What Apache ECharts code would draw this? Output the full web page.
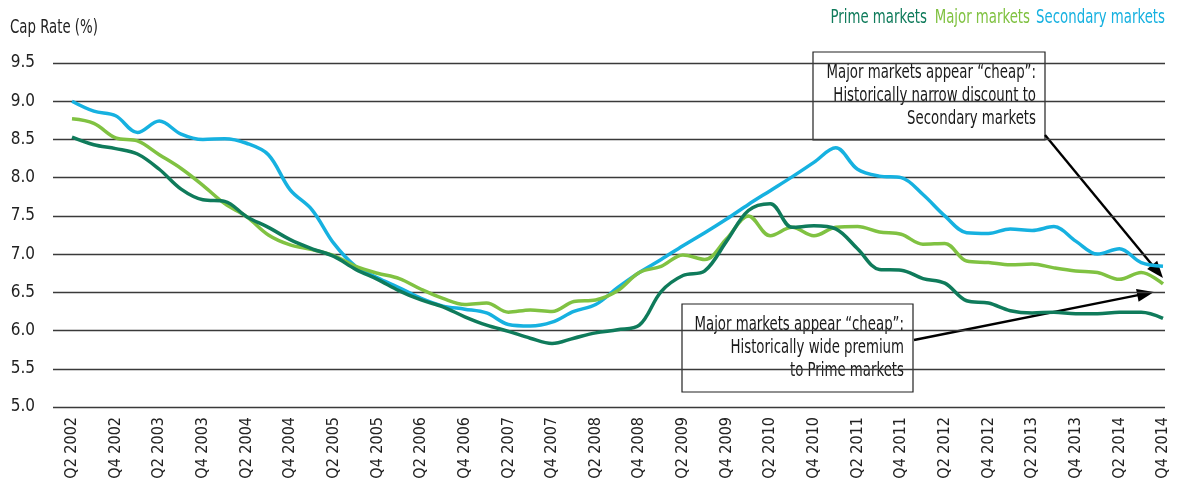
<!DOCTYPE html>
<html>
<head>
<meta charset="utf-8">
<title>Cap Rate</title>
<script src="https://cdn.jsdelivr.net/npm/echarts@6/dist/echarts.min.js"></script>
<style>
    html, body { margin:0; padding:0; background:#fff; }
    #chart { width:1183px; height:486px; }
</style>
</head>
<body>
<div id="chart"></div>
<script>
var quarters = [
    'Q2 2002','Q3 2002','Q4 2002','Q1 2003','Q2 2003','Q3 2003','Q4 2003','Q1 2004','Q2 2004','Q3 2004','Q4 2004',
    'Q1 2005','Q2 2005','Q3 2005','Q4 2005','Q1 2006','Q2 2006','Q3 2006','Q4 2006','Q1 2007','Q2 2007','Q3 2007','Q4 2007',
    'Q1 2008','Q2 2008','Q3 2008','Q4 2008','Q1 2009','Q2 2009','Q3 2009','Q4 2009','Q1 2010','Q2 2010','Q3 2010','Q4 2010',
    'Q1 2011','Q2 2011','Q3 2011','Q4 2011','Q1 2012','Q2 2012','Q3 2012','Q4 2012','Q1 2013','Q2 2013','Q3 2013','Q4 2013',
    'Q1 2014','Q2 2014','Q3 2014','Q4 2014'
];

var primeMarkets = [
    8.53,8.43,8.38,8.31,8.11,7.85,7.71,7.69,7.49,7.35,7.19,
    7.07,6.97,6.80,6.67,6.52,6.40,6.31,6.18,6.07,5.99,5.90,5.83,
    5.90,5.97,6.01,6.07,6.51,6.72,6.78,7.17,7.57,7.66,7.35,7.37,
    7.33,7.07,6.80,6.79,6.68,6.62,6.39,6.36,6.26,6.23,6.24,6.22,
    6.22,6.24,6.24,6.16
];

var majorMarkets = [
    8.77,8.71,8.52,8.48,8.30,8.12,7.90,7.66,7.49,7.25,7.12,
    7.06,6.98,6.84,6.75,6.68,6.54,6.42,6.34,6.36,6.24,6.27,6.25,
    6.38,6.40,6.52,6.76,6.84,6.99,6.93,7.20,7.50,7.24,7.35,7.24,
    7.35,7.36,7.29,7.26,7.13,7.14,6.91,6.89,6.86,6.87,6.82,6.78,
    6.76,6.67,6.76,6.61
];

var secondaryMarkets = [
    9.00,8.87,8.81,8.59,8.74,8.57,8.50,8.51,8.45,8.30,7.84,
    7.58,7.14,6.84,6.69,6.56,6.42,6.32,6.28,6.23,6.08,6.06,6.11,
    6.25,6.34,6.56,6.76,6.93,7.11,7.28,7.46,7.65,7.83,8.01,8.20,
    8.39,8.11,8.02,8.00,7.78,7.50,7.28,7.27,7.33,7.31,7.36,7.17,
    7.00,7.07,6.89,6.84
];

var yTicks = ['5.0','5.5','6.0','6.5','7.0','7.5','8.0','8.5','9.0','9.5'];

var seriesNames = ['Prime markets','Major markets','Secondary markets'];
var seriesColors = ['#0f7b5b','#80c242','#16b1e0'];

var noteTop = ['Major markets appear “cheap”:','Historically narrow discount to','Secondary markets'];
var noteBottom = ['Major markets appear “cheap”:','Historically wide premium','to Prime markets'];

var font = "'DejaVu Sans Condensed','Liberation Sans',sans-serif";
var squeeze = 0.74;   // no condensed face here, so narrow the free texts by hand
var lineW = 3.5;

// free text, squeezed horizontally around its anchor
var makeText = function(str, x, y, color, align){
    return {
        type:'text',
        x:x,
        y:y,
        scaleX:squeeze,
        z:100,
        style:{
            text:str,
            fill:color,
            font:'20px ' + font,
            align:align || 'left',
            verticalAlign:'middle'
        }
    };
};

var makeNote = function(lines, x, y, width, height){
    return {
        type:'group',
        x:x,
        y:y,
        z:100,
        children:[
            {
                type:'rect',
                shape:{x:0, y:0, width:width, height:height},
                style:{fill:'#fff', stroke:'#222', lineWidth:1.2}
            },
            {
                type:'text',
                x:width - 9,
                y:9,
                scaleX:squeeze,
                style:{
                    text:lines.join('\n'),
                    fill:'#1a1a1a',
                    font:'20px ' + font,
                    align:'right',
                    verticalAlign:'top',
                    lineHeight:23
                }
            }
        ]
    };
};

var makeArrow = function(x1, y1, x2, y2){
    var len = 17, half = 6.5;
    var dx = x2 - x1, dy = y2 - y1;
    var d = Math.sqrt(dx * dx + dy * dy);
    var ux = dx / d, uy = dy / d;
    var bx = x2 - ux * len, by = y2 - uy * len;
    return {
        type:'group',
        z:120,
        children:[
            {
                type:'line',
                shape:{x1:x1, y1:y1, x2:bx + ux * 2, y2:by + uy * 2},
                style:{stroke:'#000', lineWidth:2.4}
            },
            {
                type:'polygon',
                shape:{points:[[x2, y2], [bx - uy * half, by + ux * half], [bx + uy * half, by - ux * half]]},
                style:{fill:'#000'}
            }
        ]
    };
};

var chart = echarts.init(document.getElementById('chart'));

var series = [];
var lists = [primeMarkets, majorMarkets, secondaryMarkets];
for(var i = 0; i < lists.length; i++){
    series.push({
        name:seriesNames[i],
        type:'line',
        xAxisIndex:1,
        yAxisIndex:1,
        data:lists[i],
        smooth:0.35,
        symbol:'none',
        z:4 - i,
        lineStyle:{color:seriesColors[i], width:lineW},
        itemStyle:{color:seriesColors[i]}
    });
}

var option = {
    animation:false,
    textStyle:{fontFamily:font},
    grid:[
        {left:53, right:18, top:63, bottom:79},
        {left:72, right:20, top:63, bottom:79}
    ],
    xAxis:[
        {
            gridIndex:0,
            type:'category',
            data:quarters,
            show:false
        },
        {
            gridIndex:1,
            type:'category',
            data:quarters,
            boundaryGap:false,
            axisLine:{show:false},
            axisTick:{show:false},
            axisLabel:{
                interval:1,
                rotate:90,
                margin:10,
                fontSize:16,
                color:'#222',
                fontFamily:font
            }
        }
    ],
    yAxis:[
        {
            gridIndex:0,
            type:'value',
            min:5,
            max:9.5,
            interval:0.5,
            axisLine:{show:false},
            axisTick:{show:false},
            axisLabel:{
                margin:18,
                fontSize:17,
                color:'#222',
                fontFamily:font,
                formatter:function(v){ return yTicks[Math.round((v - 5) / 0.5)]; }
            },
            splitLine:{lineStyle:{color:'#3a3a3a', width:1.3}}
        },
        {
            gridIndex:1,
            type:'value',
            min:5,
            max:9.5,
            interval:0.5,
            show:false,
            splitLine:{show:false}
        }
    ],
    graphic:[
        makeText('Cap Rate (%)', 10, 28, '#222'),
        makeText(seriesNames[0], 927, 18, seriesColors[0], 'right'),
        makeText(seriesNames[1], 1030, 18, seriesColors[1], 'right'),
        makeText(seriesNames[2], 1165, 18, seriesColors[2], 'right'),
        makeNote(noteTop, 813, 52, 232, 88),
        makeNote(noteBottom, 682, 304, 231, 88),
        makeArrow(1045, 135, 1163, 278),
        makeArrow(914, 340, 1154, 292)
    ],
    series:series
};

chart.setOption(option);
</script>
</body>
</html>
